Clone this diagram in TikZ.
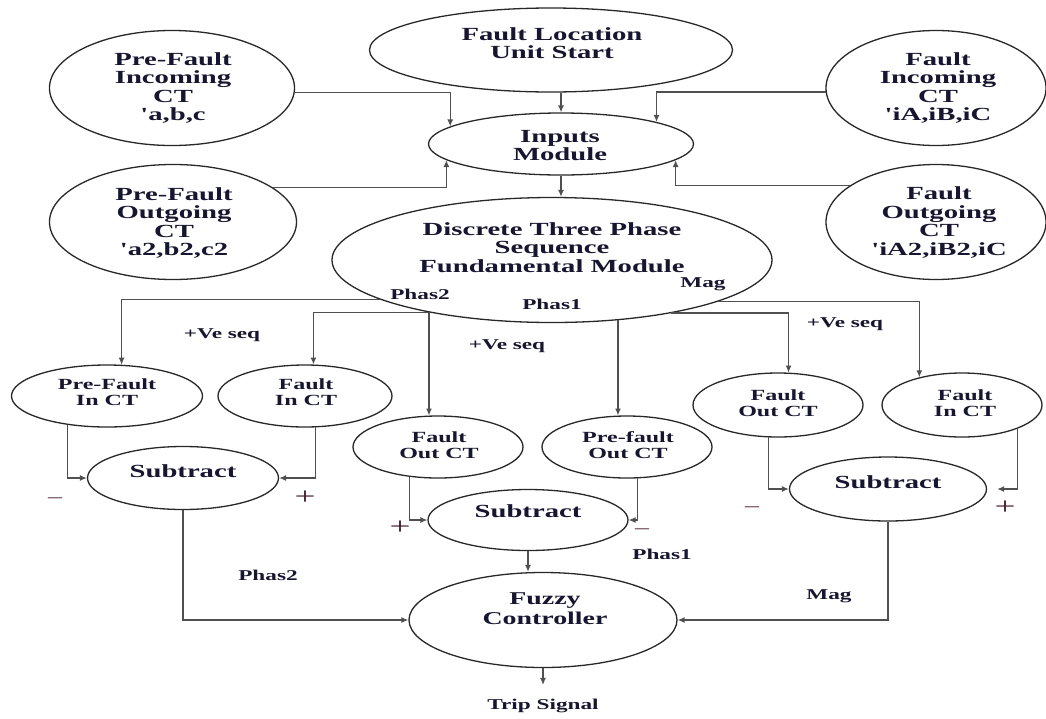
\documentclass[tikz,border=0pt]{standalone}
\usepackage{fontspec}
\newfontfamily\dfont{Liberation Serif Bold}[FakeStretch=1.55]
\newfontfamily\sfont{Liberation Serif}[FakeStretch=1.55]
\usetikzlibrary{shapes.geometric,arrows.meta}
\definecolor{txtc}{RGB}{22,22,48}
\definecolor{edgec}{RGB}{40,40,40}
\definecolor{linec}{RGB}{80,80,80}
\definecolor{sgnc}{RGB}{70,30,50}
\tikzset{
 ell/.style 2 args={ellipse, draw=edgec, line width=1.3pt, inner sep=0pt, minimum width=#1pt, minimum height=#2pt},
 lbl/.style={inner sep=0pt, align=center, text=txtc},
 big/.style={lbl, font=\dfont\fontsize{18.5}{18.6}\selectfont},
 fzf/.style={lbl, font=\dfont\fontsize{18}{20}\selectfont},
 mid/.style={lbl, font=\dfont\fontsize{15.5}{15.8}\selectfont},
 sml/.style={lbl, font=\dfont\fontsize{15}{16}\selectfont},
 sgn/.style={lbl, text=sgnc, font=\sfont\fontsize{24}{24}\selectfont},
 dsh/.style={lbl, text=sgnc, font=\sfont\fontsize{18}{18}\selectfont},
 conn/.style={draw=linec, line width=1.3pt},
 arr/.style={conn, -{Latex[length=7pt,width=6pt]}},
}
\begin{document}
\begin{tikzpicture}[x=1pt,y=-1pt]
\useasboundingbox (0,0) rectangle (1046,718);
\fill[white] (0,0) rectangle (1046,718);

% ---- top row ----
\node[ell={245}{115}] (pfi) at (172,88) {};
\node[big] (pfit) at (173,88) {Pre-Fault\\Incoming\\CT\\'a,b,c};
\node[ell={363}{84}] (flu) at (551,50) {};
\node[big] (flut) at (552,43) {Fault Location\\Unit Start};
\node[ell={220}{115}] (fic) at (936,88) {};
\node[big] (fict) at (938,88) {Fault\\Incoming\\CT\\'iA,iB,iC};
\node[ell={265}{62}] (inp) at (561,144) {};
\node[big] (inpt) at (560,145.5) {Inputs\\Module};
\node[ell={247}{115}] (pfo) at (173,222) {};
\node[big] (pfot) at (174,223) {Pre-Fault\\Outgoing\\CT\\'a2,b2,c2};
\node[ell={220}{115}] (fo) at (936,222) {};
\node[big] (fot) at (939,222.5) {Fault\\Outgoing\\CT\\'iA2,iB2,iC};
\node[ell={440}{125}] (dtp) at (552,260) {};
\node[big] (dtpt) at (552,247.5) {Discrete Three Phase\\Sequence\\Fundamental Module};
\node[sml] (dmag) at (703,284) {Mag};
\node[sml] (dph2) at (420,294) {Phas2};
\node[sml] (dph1) at (552,304) {Phas1};

% ---- middle row ----
\node[ell={191}{62}] (pfic) at (107,396) {};
\node[mid] (pfict) at (107,392.5) {Pre-Fault\\In CT};
\node[ell={174}{62}] (fic2) at (305,396) {};
\node[mid] (fic2t) at (306,392.5) {Fault\\In CT};
\node[ell={170}{62}] (fom) at (438,447) {};
\node[mid] (fomt) at (439,445) {Fault\\Out CT};
\node[ell={170}{62}] (pfoc) at (627,447) {};
\node[mid] (pfoct) at (628,445) {Pre-fault\\Out CT};
\node[ell={170}{64}] (for) at (778,405) {};
\node[mid] (fort) at (778,403) {Fault\\Out CT};
\node[ell={160}{64}] (fir) at (962,405) {};
\node[mid] (firt) at (965,403) {Fault\\In CT};

% ---- subtract row ----
\node[ell={191}{63}] (ls) at (183,478) {};
\node[big] (lst) at (183,471) {Subtract};
\node[ell={200}{61}] (ms) at (528,520) {};
\node[big] (mst) at (528,511) {Subtract};
\node[ell={197}{64}] (rs) at (888,489) {};
\node[big] (rst) at (888,482) {Subtract};

\node[ell={268}{95}] (fz) at (543,620) {};
\node[fzf] (fzt) at (545,609) {Fuzzy\\Controller};
\node[sml] (trip) at (543,706) {Trip Signal};

% ---- labels ----
\node[sml] (ve1) at (222,335) {+Ve seq};
\node[sml] (ve2) at (507,346) {+Ve seq};
\node[sml] (ve3) at (845,324) {+Ve seq};
\node[sml] (lph2) at (268,575) {Phas2};
\node[sml] (lph1) at (662,554) {Phas1};
\node[sml] (lmag) at (829,596) {Mag};
\node[dsh] (sg1) at (55,500) {–};
\node[sgn] (sg2) at (305,498) {+};
\node[sgn] (sg3) at (400,528) {+};
\node[dsh] (sg4) at (642,531) {–};
\node[dsh] (sg5) at (752,509) {–};
\node[sgn] (sg6) at (1005,508) {+};

% ---- connectors ----
\draw[arr] (pfi.-2) -| (inp.171.7);
\draw[arr] (flu.south -| inp.north) -- (inp.north);
\draw[arr] (fic.182.3) -| (inp.13);
\draw[arr] (pfo.19.7) -| (inp.188.3);
\draw[arr] (fo.157.2) -| (inp.352.1);
\draw[arr] (inp.south) -- (inp.south |- dtp.north);

\draw[arr] (dtp.193.9) -| (pfic.65.9);
\draw[arr] (dtp.203.1) -| (fic2.75.5);
\draw[arr] (fom.106.3 |- dtp.203.1) -- (fom.106.3);
\draw[arr] (pfoc.106.3 |- dtp.317.9) -- (pfoc.106.3);
\draw[arr] (dtp.336.9) -| (for.72.5);
\draw[arr] (dtp.346.1) -| (fir.147.1);

\draw[arr] (pfic.216) |- (ls.west);
\draw[arr] (fic2.288) |- (ls.east);
\draw[arr] (fom.226.3) |- (ms.west);
\draw[arr] (pfoc.289.7) |- (ms.east);
\draw[arr] (for.254.2) |- (rs.west);
\draw[arr, shorten >=10pt] (fir.337.1) |- (rs.east);

\draw[arr] (ls.south) |- (fz.west);
\draw[arr] (ms.south) -- (ms.south |- fz.north);
\draw[arr] (rs.south) |- (fz.east);
\draw[arr] (fz.south) -- ([yshift=14pt]trip.north);
\end{tikzpicture}
\end{document}
